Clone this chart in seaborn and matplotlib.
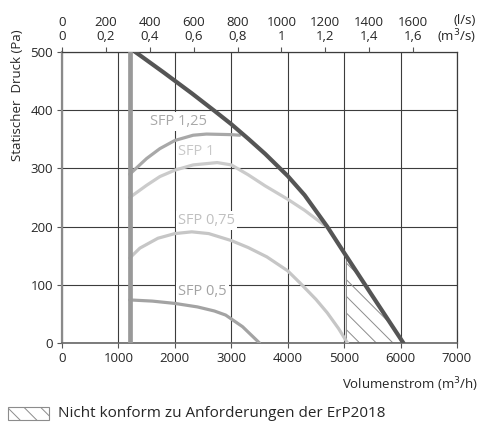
import pandas as pd
import seaborn as sns
import matplotlib.pyplot as plt
from matplotlib.patches import Rectangle

sns.set_style('white')
plt.rcParams['font.family'] = ['Open Sans', 'DejaVu Sans']
plt.rcParams['hatch.linewidth'] = 0.7

# Ventilatorkennlinie (max), m3/h -> Pa
max_x = [1300, 1800, 2300, 2700, 3000, 3300, 3600, 4000, 4300, 4700, 5000, 5500, 6050]
max_y = [500, 465, 429, 399, 376, 351, 325, 287, 254, 200, 155, 81, 0]

# SFP-Kurven
sfp125_x = [1200, 1500, 1735, 2000, 2324, 2560, 3000, 3150]
sfp125_y = [290, 317, 334, 348, 357, 359, 358, 357]

sfp1_x = [1200, 1500, 1735, 2000, 2324, 2750, 3000, 3300, 3600, 4000, 4300, 4600, 4700]
sfp1_y = [250, 271, 286, 297, 306, 310, 306, 289, 270, 247, 228, 206, 199]

sfp075_x = [1200, 1380, 1700, 2000, 2300, 2600, 3000, 3300, 3630, 4000, 4220, 4500, 4700, 4900, 5060]
sfp075_y = [146, 163, 180, 188, 191, 188, 176, 164, 148, 124, 103, 75, 52, 25, 0]

sfp05_x = [1200, 1600, 2000, 2400, 2700, 2900, 3050, 3200, 3350, 3500]
sfp05_y = [74, 72, 68, 62, 55, 48, 38, 28, 14, 0]

# Mindestvolumenstrom
min_x = [1200, 1200]
min_y = [0, 500]

# nicht konformer Bereich
hatch_x = [5040, 5500, 6050]
hatch_y = [149, 81, 0]

x_ticks = [0, 1000, 2000, 3000, 4000, 5000, 6000, 7000]
y_ticks = [0, 100, 200, 300, 400, 500]
top_ls = [0, 200, 400, 600, 800, 1000, 1200, 1400, 1600]
top_m3s = ['0', '0,2', '0,4', '0,6', '0,8', '1', '1,2', '1,4', '1,6']

fig = plt.figure(figsize=(4.83, 4.23), dpi=100)
ax = fig.add_axes([62 / 483, 1 - 343 / 423, 395 / 483, 291 / 423])

ax.set_xlim(0, 7000)
ax.set_ylim(0, 500)
ax.set_xticks(x_ticks)
ax.set_yticks(y_ticks)
ax.grid(True, color='#3c3c3c', lw=0.8, zorder=0)
ax.set_axisbelow(True)
ax.tick_params(axis='both', labelsize=9.5, length=3.5, width=0.8, color='#555555',
               direction='out', bottom=True, left=True, pad=3)
for side in ['top', 'right']:
    ax.spines[side].set_color('#3c3c3c')
    ax.spines[side].set_linewidth(0.9)
ax.spines['left'].set_color('#8a8a8a')
ax.spines['left'].set_linewidth(1.6)
ax.spines['bottom'].set_color('#666666')
ax.spines['bottom'].set_linewidth(1.2)

ax.fill_between(hatch_x, hatch_y, 0, facecolor='none', edgecolor='#8c8c8c',
                hatch='\\\\', lw=0.8, zorder=2)

curves = [
    (sfp05_x, sfp05_y, '#a3a3a3'),
    (sfp075_x, sfp075_y, '#c6c6c6'),
    (sfp1_x, sfp1_y, '#cbcbcb'),
    (sfp125_x, sfp125_y, '#a8a8a8'),
]
for cx, cy, col in curves:
    sns.lineplot(x=cx, y=cy, sort=False, estimator=None, color=col, lw=2.3, ax=ax, zorder=3)

sns.lineplot(x=min_x, y=min_y, sort=False, estimator=None, color='#999999', lw=3.4, ax=ax, zorder=4)
sns.lineplot(x=max_x, y=max_y, sort=False, estimator=None, color='#555555', lw=3.0, ax=ax, zorder=5)

box = dict(facecolor='white', edgecolor='none', pad=1.5)
ax.text(2070, 380, 'SFP 1,25', color='#a8a8a8', fontsize=10.5, ha='center', va='center', bbox=box, zorder=3)
ax.text(2370, 329, 'SFP 1', color='#c8c8c8', fontsize=10.5, ha='center', va='center', bbox=box, zorder=3)
ax.text(2560, 211, 'SFP 0,75', color='#c0c0c0', fontsize=10.5, ha='center', va='center', bbox=box, zorder=3)
ax.text(2490, 88, 'SFP 0,5', color='#a3a3a3', fontsize=10.5, ha='center', va='center', bbox=box, zorder=3)

# obere Achse l/s und m3/s
top = ax.twiny()
top.set_xlim(0, 1800)
top.set_xticks(top_ls)
top.set_xticklabels([f'{a}\n{b}' for a, b in zip(top_ls, top_m3s)], linespacing=1.1)
top.tick_params(axis='x', labelsize=9.5, length=3.5, width=0.8, color='#555555', pad=3)
top.grid(False)
for s in top.spines.values():
    s.set_visible(False)

fig.text(476 / 483, 1 - 30 / 423, '(l/s)\n(m$^3$/s)', ha='right', va='center',
         fontsize=9.5, linespacing=1.1, multialignment='right')

fig.text(18 / 483, 1 - 95 / 423, 'Statischer  Druck (Pa)', rotation=90,
         ha='center', va='center', fontsize=9.5)
fig.text(478 / 483, 1 - 385 / 423, 'Volumenstrom (m$^3$/h)', ha='right', va='center', fontsize=9.5)

fig.add_artist(Rectangle((8 / 483, 1 - 420 / 423), 41 / 483, 13 / 423, transform=fig.transFigure,
                         facecolor='white', edgecolor='#8c8c8c', hatch='\\\\', lw=0.8))
fig.text(58 / 483, 1 - 413 / 423, 'Nicht konform zu Anforderungen der ErP2018',
         ha='left', va='center', fontsize=11)

fig.savefig('out.png', dpi=100)
